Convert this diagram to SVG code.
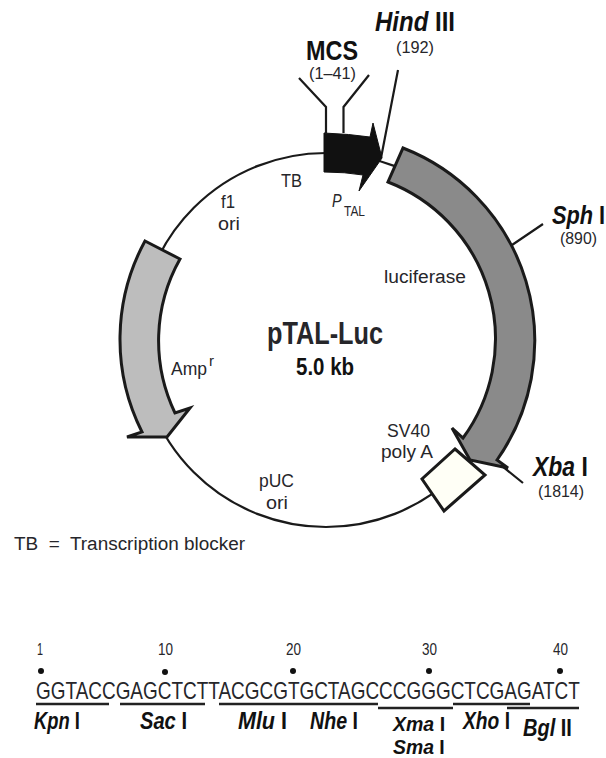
<svg xmlns="http://www.w3.org/2000/svg" width="606" height="758" viewBox="0 0 606 758">
<style>
text{font-family:"Liberation Sans",Arial,sans-serif;fill:#26262a;font-size:18px}
.s{font-size:17px}
.b{font-weight:bold;fill:#111;font-size:27px}
.e{font-weight:bold;fill:#111;font-size:23px}
.i{font-style:italic}
.l{fill:none;stroke:#1a1a1a;stroke-width:2.2}
.u{fill:none;stroke:#222;stroke-width:2.4}
.d{fill:#111}
.a{stroke:#1a1a1a;stroke-width:3;stroke-linejoin:miter}
</style>
<rect width="606" height="758" fill="#fff"/>
<g id="connectors">
<circle class="l" cx="326" cy="340" r="187"/>
<path class="l" d="M326 133V107L299 78M343.500 133V107L369 75M398 70L381 158M512 245L543 224M497 462L523 483"/>
</g>
<g id="amp"><path class="a" fill="#bdbdbd" d="M145 241L180 259A167 167 0 0 0 175 413L190 408L167 437H127L142 432A206 206 0 0 1 145 241Z"/></g>
<g id="luciferase"><path class="a" fill="#8a8a8a" d="M403 148A207 207 0 0 1 497 460L508 468L470 460L452 428L463 438A168 168 0 0 0 388 182Z"/></g>
<g id="sv40"><path class="a" fill="#fffff6" d="M455 449L485 475L444 511L422 479Z"/></g>
<g id="ptal"><path fill="#111" stroke="#111" d="M324 133Q350 134 370 137L373 123L382 158L359 191L363 175Q345 172 324 172Z"/></g>
<g id="labels">
<text class="b" transform="translate(375 31) scale(.889 1)"><tspan class="i">Hind</tspan> III</text>
<text class="s" x="396" y="53" textLength="38" lengthAdjust="spacingAndGlyphs">(192)</text>
<text class="b" transform="translate(306 60) scale(.867 1)">MCS</text>
<text class="s" x="309" y="79" textLength="47" lengthAdjust="spacingAndGlyphs">(1–41)</text>
<text x="281" y="187" textLength="21" lengthAdjust="spacingAndGlyphs">TB</text>
<text class="i" transform="translate(332 207) scale(.8 1)">P</text>
<text style="font-size:14px" x="344" y="216" textLength="21" lengthAdjust="spacingAndGlyphs">TAL</text>
<text x="221" y="208" textLength="14" lengthAdjust="spacingAndGlyphs">f1</text>
<text x="218" y="230" textLength="22" lengthAdjust="spacingAndGlyphs">ori</text>
<text x="384" y="283" textLength="82" lengthAdjust="spacingAndGlyphs">luciferase</text>
<text font-weight="bold" style="font-size:32px" transform="translate(267 344) scale(.79 1)">pTAL-Luc</text>
<text class="e" transform="translate(296 375) scale(.89 1)">5.0 kb</text>
<text x="171" y="375" textLength="36" lengthAdjust="spacingAndGlyphs">Amp</text>
<text style="font-size:14px" x="209" y="366" textLength="5" lengthAdjust="spacingAndGlyphs">r</text>
<text x="387" y="437" textLength="43" lengthAdjust="spacingAndGlyphs">SV40</text>
<text x="381" y="458" textLength="52" lengthAdjust="spacingAndGlyphs">poly A</text>
<text x="259" y="487" textLength="35" lengthAdjust="spacingAndGlyphs">pUC</text>
<text x="266" y="509" textLength="22" lengthAdjust="spacingAndGlyphs">ori</text>
<text class="e" style="font-size:25px" transform="translate(552 224) scale(.87 1)"><tspan class="i">Sph</tspan> I</text>
<text style="font-size:16px" x="560" y="244" textLength="37" lengthAdjust="spacingAndGlyphs">(890)</text>
<text class="b" transform="translate(533 476) scale(.85 1)"><tspan class="i">Xba</tspan> I</text>
<text class="s" x="538" y="497" textLength="46" lengthAdjust="spacingAndGlyphs">(1814)</text>
<text x="14" y="550" textLength="231" lengthAdjust="spacingAndGlyphs" xml:space="preserve">TB  =  Transcription blocker</text>
</g>
<g id="sequence">
<text class="s" x="37" y="655" textLength="6" lengthAdjust="spacingAndGlyphs">1</text>
<text class="s" x="158" y="655" textLength="15" lengthAdjust="spacingAndGlyphs">10</text>
<text class="s" x="286" y="655" textLength="15" lengthAdjust="spacingAndGlyphs">20</text>
<text class="s" x="422" y="655" textLength="15" lengthAdjust="spacingAndGlyphs">30</text>
<text class="s" x="553" y="655" textLength="15" lengthAdjust="spacingAndGlyphs">40</text>
<circle class="d" cx="41" cy="671" r="3"/><circle class="d" cx="165" cy="672" r="3"/><circle class="d" cx="293" cy="671" r="3"/><circle class="d" cx="429" cy="671" r="3"/><circle class="d" cx="560" cy="671" r="3"/>
<text style="font-size:24px" transform="translate(36 699) scale(.79 1)">GGTACCGAGCTCTTACGCGTGCTAGCCCGGGCTCGAGATCT</text>
<path class="u" d="M36 704H109M120 704H205M219 704H296M296 704H378M378 708H453M453 704H530M507 708H579"/>
<text class="e" transform="translate(34 729) scale(.8 1)"><tspan class="i">Kpn</tspan> I</text>
<text class="e" transform="translate(140 729) scale(.875 1)"><tspan class="i">Sac</tspan> I</text>
<text class="e" transform="translate(238 729) scale(.935 1)"><tspan class="i">Mlu</tspan> I</text>
<text class="e" transform="translate(310 729) scale(.854 1)"><tspan class="i">Nhe</tspan> I</text>
<text class="e" style="font-size:21px" transform="translate(393 730.500) scale(.93 1)"><tspan class="i">Xma</tspan> I</text>
<text class="e" style="font-size:20px" transform="translate(393 753.500) scale(.97 1)"><tspan class="i">Sma</tspan> I</text>
<text class="e" transform="translate(463 729) scale(.836 1)"><tspan class="i">Xho</tspan> I</text>
<text class="e" transform="translate(523 736) scale(.87 1)"><tspan class="i">Bgl</tspan> II</text>
</g>
</svg>
